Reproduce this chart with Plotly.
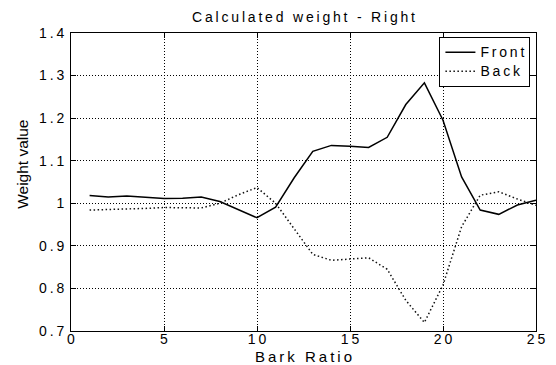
import plotly.graph_objects as go

bark = list(range(1, 26))
front = [1.018, 1.015, 1.017, 1.014, 1.011, 1.012, 1.015, 1.004, 0.985, 0.966,
         0.991, 1.06, 1.122, 1.136, 1.134, 1.131, 1.155, 1.232, 1.283, 1.195,
         1.062, 0.984, 0.974, 0.996, 1.007]
back = [0.984, 0.985, 0.986, 0.988, 0.990, 0.990, 0.989, 1.000, 1.020, 1.037,
        1.000, 0.940, 0.880, 0.866, 0.869, 0.872, 0.845, 0.772, 0.720, 0.808,
        0.945, 1.019, 1.027, 1.010, 0.995]
xticks = [0, 5, 10, 15, 20, 25]
yticks = [0.7, 0.8, 0.9, 1.0, 1.1, 1.2, 1.3, 1.4]
ytick_labels = ["0.7", "0.8", "0.9", "1", "1.1", "1.2", "1.3", "1.4"]

def spaced(s):
    return "\u2009".join(s)

def legend_name(s):
    return '<span style="font-size:14px">' + spaced(s) + "</span>"

fig = go.Figure()
fig.add_trace(go.Scatter(x=bark, y=front, mode="lines", name=legend_name("Front"),
                         line=dict(color="black", width=1.5)))
fig.add_trace(go.Scatter(x=bark, y=back, mode="lines", name=legend_name("Back"),
                         line=dict(color="#111111", width=1.5, dash="1.5px,2.5px")))

font = dict(family="Liberation Sans, Arial, sans-serif", size=14, color="black")
axis_common = dict(showline=True, linecolor="black", linewidth=1, mirror="ticks",
                   ticks="inside", ticklen=5, tickcolor="black",
                   showgrid=True, gridcolor="black", griddash="1px,2px", gridwidth=1,
                   zeroline=False, tickfont=font, automargin=False)

fig.update_layout(
    width=556, height=365,
    margin=dict(l=71, r=20, t=33, b=34),
    paper_bgcolor="white", plot_bgcolor="white",
    font=font,
    title=dict(text=spaced("Calculated weight - Right"), x=0.546, xanchor="center",
               y=0.953, yanchor="middle", font=dict(size=14)),
    xaxis=dict(range=[0, 25], tickvals=xticks, ticktext=[spaced(str(t)) for t in xticks],
               ticklabelstandoff=-5,
               title=dict(text=spaced("Bark Ratio"), font=dict(size=15)),
               **axis_common),
    yaxis=dict(range=[0.7, 1.4], tickvals=yticks, ticktext=[spaced(t) for t in ytick_labels],
               ticklabelstandoff=3,
               **axis_common),
    annotations=[dict(text="Weight value", textangle=-90, xref="paper", yref="paper",
                      x=-0.106, y=0.56, xanchor="center", yanchor="middle",
                      showarrow=False, font=dict(size=15.5))],
    legend=dict(x=0.988, y=0.987, xanchor="right", yanchor="top",
                bgcolor="white", bordercolor="black", borderwidth=1,
                font=dict(size=12), tracegroupgap=0, itemwidth=30),
    showlegend=True,
)

fig.write_html("out.html")
